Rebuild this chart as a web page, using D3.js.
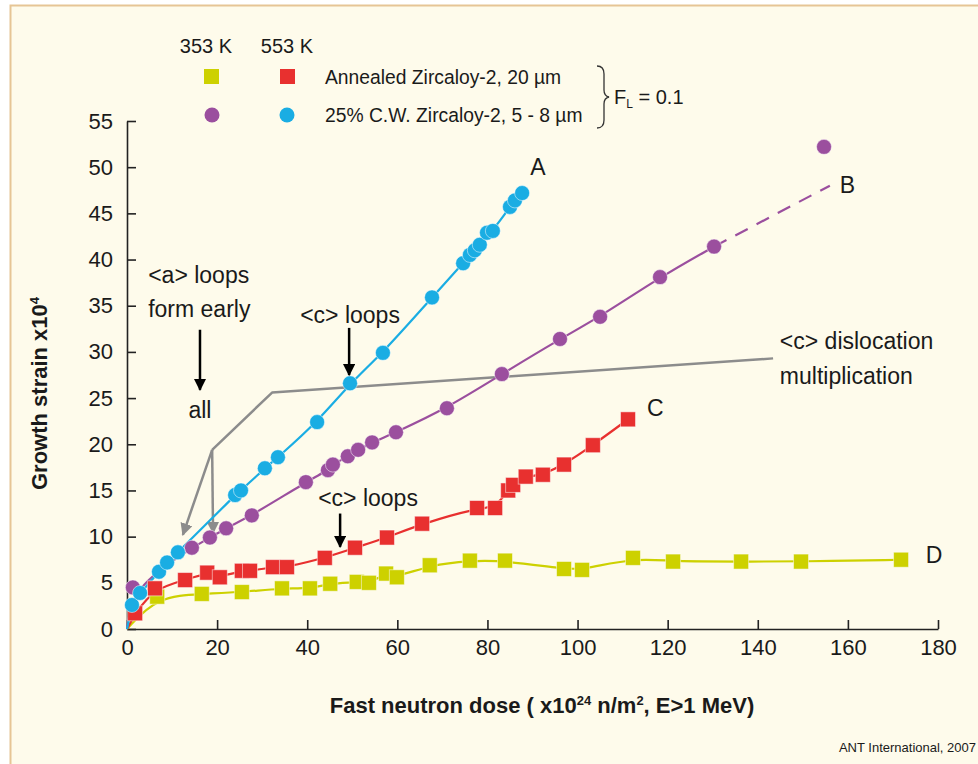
<!DOCTYPE html>
<html>
<head>
<meta charset="utf-8">
<script src="https://cdn.jsdelivr.net/npm/d3@7"></script>
<style>
  html, body { margin: 0; padding: 0; background: #fff; }
  svg text { font-family: "Liberation Sans", Arial, sans-serif; fill: #1a1a1a; }
</style>
</head>
<body>
<div id="chart-area"></div>
<script>
// ---- datos ----
// A: 553 K, 25% C.W. Zircaloy-2 (circulos cian)
const serieA = [
  [1.1, 2.6], [2.9, 3.9], [7.1, 6.2], [8.9, 7.2], [11.3, 8.3], [24.0, 14.5], [25.3, 15.0],
  [30.6, 17.4], [33.5, 18.6], [42.2, 22.4], [49.5, 26.6], [56.8, 29.9], [67.7, 35.9],
  [74.6, 39.6], [76.1, 40.5], [77.2, 41.0], [78.3, 41.6], [79.9, 42.9], [81.2, 43.1],
  [85.0, 45.7], [86.1, 46.4], [87.7, 47.2]
];
// B: 353 K, 25% C.W. Zircaloy-2 (circulos morados)
const serieB = [
  [1.3, 4.5], [14.4, 8.8], [18.4, 9.9], [22.0, 10.9], [27.7, 12.3], [39.7, 15.9],
  [44.6, 17.2], [45.7, 17.8], [49.0, 18.7], [51.3, 19.4], [54.4, 20.2], [59.7, 21.3],
  [71.0, 23.9], [83.2, 27.6], [96.1, 31.4], [105.0, 33.8], [118.3, 38.1], [130.3, 41.4]
];
const serieBExtra = [[154.7, 52.2]];                 // punto aislado arriba
const serieBDash = [[130.3, 41.4], [156.0, 48.0]];   // extrapolacion discontinua
// C: 553 K, Zircaloy-2 recocido (cuadrados rojos)
const serieC = [
  [1.8, 1.7], [6.2, 4.4], [12.9, 5.3], [17.8, 6.1], [20.6, 5.6], [25.5, 6.3], [27.3, 6.3],
  [32.4, 6.7], [35.5, 6.7], [43.9, 7.7], [50.6, 8.8], [57.7, 9.9], [65.5, 11.4],
  [77.7, 13.1], [81.7, 13.1], [84.6, 15.0], [85.7, 15.6], [88.5, 16.5], [92.3, 16.7],
  [97.0, 17.8], [103.4, 19.9], [111.2, 22.7]
];
// D: 353 K, Zircaloy-2 recocido (cuadrados verde-amarillo)
const serieD = [
  [6.7, 3.5], [16.6, 3.8], [25.5, 4.0], [34.4, 4.4], [40.6, 4.4], [45.1, 4.9], [51.0, 5.1],
  [53.7, 5.0], [57.5, 6.0], [59.9, 5.6], [67.2, 6.9], [76.1, 7.4], [83.9, 7.4],
  [97.0, 6.5], [101.0, 6.4], [112.3, 7.7], [121.2, 7.3], [136.3, 7.3], [149.6, 7.3],
  [171.8, 7.5]
];

const xTicks = [0, 20, 40, 60, 80, 100, 120, 140, 160, 180];
const yTicks = [0, 5, 10, 15, 20, 25, 30, 35, 40, 45, 50, 55];

const colores = { A: "#1aade3", B: "#9b4f9e", C: "#e8302f", D: "#cdd100" };

const width = 978;
const height = 764;

const svg = d3.select("#chart-area")
  .append("svg")
  .attr("width", width)
  .attr("height", height);

// fondo crema y borde
svg.append("rect").attr("x", 0).attr("y", 0).attr("width", width).attr("height", height).attr("fill", "#ffffff");
svg.append("rect").attr("x", 10).attr("y", 5).attr("width", width - 10).attr("height", height - 5).attr("fill", "#fefbeb");
svg.append("path").attr("d", `M10.5,${height}V5.5H${width}`).attr("fill", "none").attr("stroke", "#e6c595").attr("stroke-width", 2);

const x = d3.scaleLinear().domain([0, 180]).range([127, 938]);
const y = d3.scaleLinear().domain([0, 55]).range([629, 121]);

// ejes
const gx = svg.append("g")
  .attr("transform", `translate(0,${y(0)})`)
  .call(d3.axisBottom(x).tickValues(xTicks).tickSizeInner(-9).tickSizeOuter(0).tickPadding(10));
const gy = svg.append("g")
  .attr("transform", `translate(${x(0)},0)`)
  .call(d3.axisLeft(y).tickValues(yTicks).tickSizeInner(-9).tickSizeOuter(0).tickPadding(14));

[gx, gy].forEach(g => {
  g.select(".domain").attr("stroke", "#222").attr("stroke-width", 1.6);
  g.selectAll(".tick line").attr("stroke", "#222").attr("stroke-width", 1.6);
  g.selectAll(".tick text").attr("font-size", 22).attr("fill", "#1a1a1a")
    .style("font-family", '"Liberation Sans", Arial, sans-serif');
});

// titulos de ejes
const yTitle = svg.append("text")
  .attr("transform", `translate(47,${y(25.5)}) rotate(-90)`)
  .attr("text-anchor", "middle")
  .attr("font-size", 22)
  .attr("font-weight", "bold");
yTitle.append("tspan").text("Growth strain x10");
yTitle.append("tspan").attr("font-size", 13).attr("dy", -8).text("4");

const xTitle = svg.append("text")
  .attr("x", 542).attr("y", 713)
  .attr("text-anchor", "middle")
  .attr("font-size", 22)
  .attr("font-weight", "bold");
xTitle.append("tspan").text("Fast neutron dose ( x10");
xTitle.append("tspan").attr("font-size", 13).attr("dy", -8).text("24");
xTitle.append("tspan").attr("dy", 8).text(" n/m");
xTitle.append("tspan").attr("font-size", 13).attr("dy", -8).text("2");
xTitle.append("tspan").attr("dy", 8).text(", E>1 MeV)");

svg.append("text").attr("x", 976).attr("y", 752).attr("text-anchor", "end")
  .attr("font-size", 13).attr("fill", "#333").text("ANT International, 2007");

// anotaciones grises
const gris = "#8c8c8c";
const defs = svg.append("defs");
function marcador(id, color) {
  defs.append("marker").attr("id", id).attr("viewBox", "0 0 10 10")
    .attr("refX", 9).attr("refY", 5).attr("markerWidth", 5).attr("markerHeight", 5)
    .attr("markerUnits", "strokeWidth").attr("orient", "auto")
    .append("path").attr("d", "M0,0L10,5L0,10Z").attr("fill", color);
}
marcador("flechaGris", gris);
marcador("flechaNegra", "#000");

const linea = d3.line().x(d => x(d[0])).y(d => y(d[1]));
const grisTronco = [[143.4, 29.3], [32.2, 25.6], [18.9, 19.4]];
const grisFlechas = [[[18.9, 19.4], [12.4, 10.2]], [[18.9, 19.4], [19.1, 10.4]]];
svg.append("path").attr("d", linea(grisTronco)).attr("fill", "none")
  .attr("stroke", gris).attr("stroke-width", 2.5).attr("stroke-linejoin", "round");
grisFlechas.forEach(f => {
  svg.append("path").attr("d", linea(f)).attr("fill", "none")
    .attr("stroke", gris).attr("stroke-width", 2.5).attr("marker-end", "url(#flechaGris)");
});

// series
const curva = d3.line().x(d => x(d[0])).y(d => y(d[1])).curve(d3.curveBasis);
const series = [
  { id: "D", pts: serieD, forma: "cuadro" },
  { id: "C", pts: serieC, forma: "cuadro" },
  { id: "B", pts: serieB, forma: "circulo" },
  { id: "A", pts: serieA, forma: "circulo" }
];
series.forEach(s => {
  svg.append("path").attr("d", curva([[0, 0], ...s.pts])).attr("fill", "none")
    .attr("stroke", colores[s.id]).attr("stroke-width", 2.2);
});
svg.append("path").attr("d", linea(serieBDash)).attr("fill", "none")
  .attr("stroke", colores.B).attr("stroke-width", 2.2).attr("stroke-dasharray", "14,10");

series.forEach(s => {
  const pts = s.id === "B" ? s.pts.concat(serieBExtra) : s.pts;
  if (s.forma === "cuadro") {
    svg.append("g").selectAll("rect").data(pts).enter().append("rect")
      .attr("x", d => x(d[0]) - 7.5).attr("y", d => y(d[1]) - 7.5)
      .attr("width", 15).attr("height", 15)
      .attr("fill", colores[s.id]).attr("stroke", "#ffffff").attr("stroke-opacity", 0.5).attr("stroke-width", 1);
  } else {
    svg.append("g").selectAll("circle").data(pts).enter().append("circle")
      .attr("cx", d => x(d[0])).attr("cy", d => y(d[1])).attr("r", 7.5)
      .attr("fill", colores[s.id]).attr("stroke", "#ffffff").attr("stroke-opacity", 0.5).attr("stroke-width", 1);
  }
});

// flechas negras
const flechasNegras = [
  [[16.2, 32.4], [16.2, 25.9]],
  [[49.3, 32.6], [49.3, 27.5]],
  [[47.3, 12.5], [47.3, 8.9]]
];
flechasNegras.forEach(f => {
  svg.append("path").attr("d", linea(f)).attr("fill", "none")
    .attr("stroke", "#000").attr("stroke-width", 2.5).attr("marker-end", "url(#flechaNegra)");
});

// textos de anotacion
const notas = [
  { t: "<a> loops", x: 4.7, y: 38.3, a: "start" },
  { t: "form early", x: 4.7, y: 34.6, a: "start" },
  { t: "all", x: 16.2, y: 23.7, a: "middle" },
  { t: "<c> loops", x: 49.5, y: 34.0, a: "middle" },
  { t: "<c> loops", x: 53.5, y: 14.2, a: "middle" },
  { t: "<c> dislocation", x: 144.9, y: 31.2, a: "start" },
  { t: "multiplication", x: 144.9, y: 27.4, a: "start" },
  { t: "A", x: 89.5, y: 50.0, a: "start" },
  { t: "B", x: 158.2, y: 48.1, a: "start" },
  { t: "C", x: 115.4, y: 23.9, a: "start" },
  { t: "D", x: 177.3, y: 8.0, a: "start" }
];
svg.append("g").selectAll("text").data(notas).enter().append("text")
  .attr("x", d => x(d.x)).attr("y", d => y(d.y))
  .attr("dy", "0.35em")
  .attr("text-anchor", d => d.a)
  .attr("font-size", 23)
  .text(d => d.t);

// leyenda
const leyenda = svg.append("g");
leyenda.append("text").attr("x", 206).attr("y", 53).attr("text-anchor", "middle").attr("font-size", 20).text("353 K");
leyenda.append("text").attr("x", 287).attr("y", 53).attr("text-anchor", "middle").attr("font-size", 20).text("553 K");
leyenda.append("rect").attr("x", 204).attr("y", 69).attr("width", 15).attr("height", 15).attr("fill", colores.D);
leyenda.append("rect").attr("x", 280).attr("y", 69).attr("width", 15).attr("height", 15).attr("fill", colores.C);
leyenda.append("circle").attr("cx", 212).attr("cy", 115).attr("r", 7.5).attr("fill", colores.B);
leyenda.append("circle").attr("cx", 287).attr("cy", 115).attr("r", 7.5).attr("fill", colores.A);
leyenda.append("text").attr("x", 325).attr("y", 84).attr("font-size", 19.3).text("Annealed Zircaloy-2, 20 µm");
leyenda.append("text").attr("x", 325).attr("y", 122).attr("font-size", 19.3).text("25% C.W. Zircaloy-2, 5 - 8 µm");
leyenda.append("path")
  .attr("d", "M597,66 Q604,66 604,74 L604,90 Q604,96 609,97 Q604,98 604,104 L604,120 Q604,128 597,128")
  .attr("fill", "none").attr("stroke", "#333").attr("stroke-width", 1.3);
const fl = leyenda.append("text").attr("x", 614).attr("y", 104).attr("font-size", 20);
fl.append("tspan").text("F");
fl.append("tspan").attr("font-size", 12).attr("dy", 4).text("L");
fl.append("tspan").attr("dy", -4).text(" = 0.1");
</script>
</body>
</html>
